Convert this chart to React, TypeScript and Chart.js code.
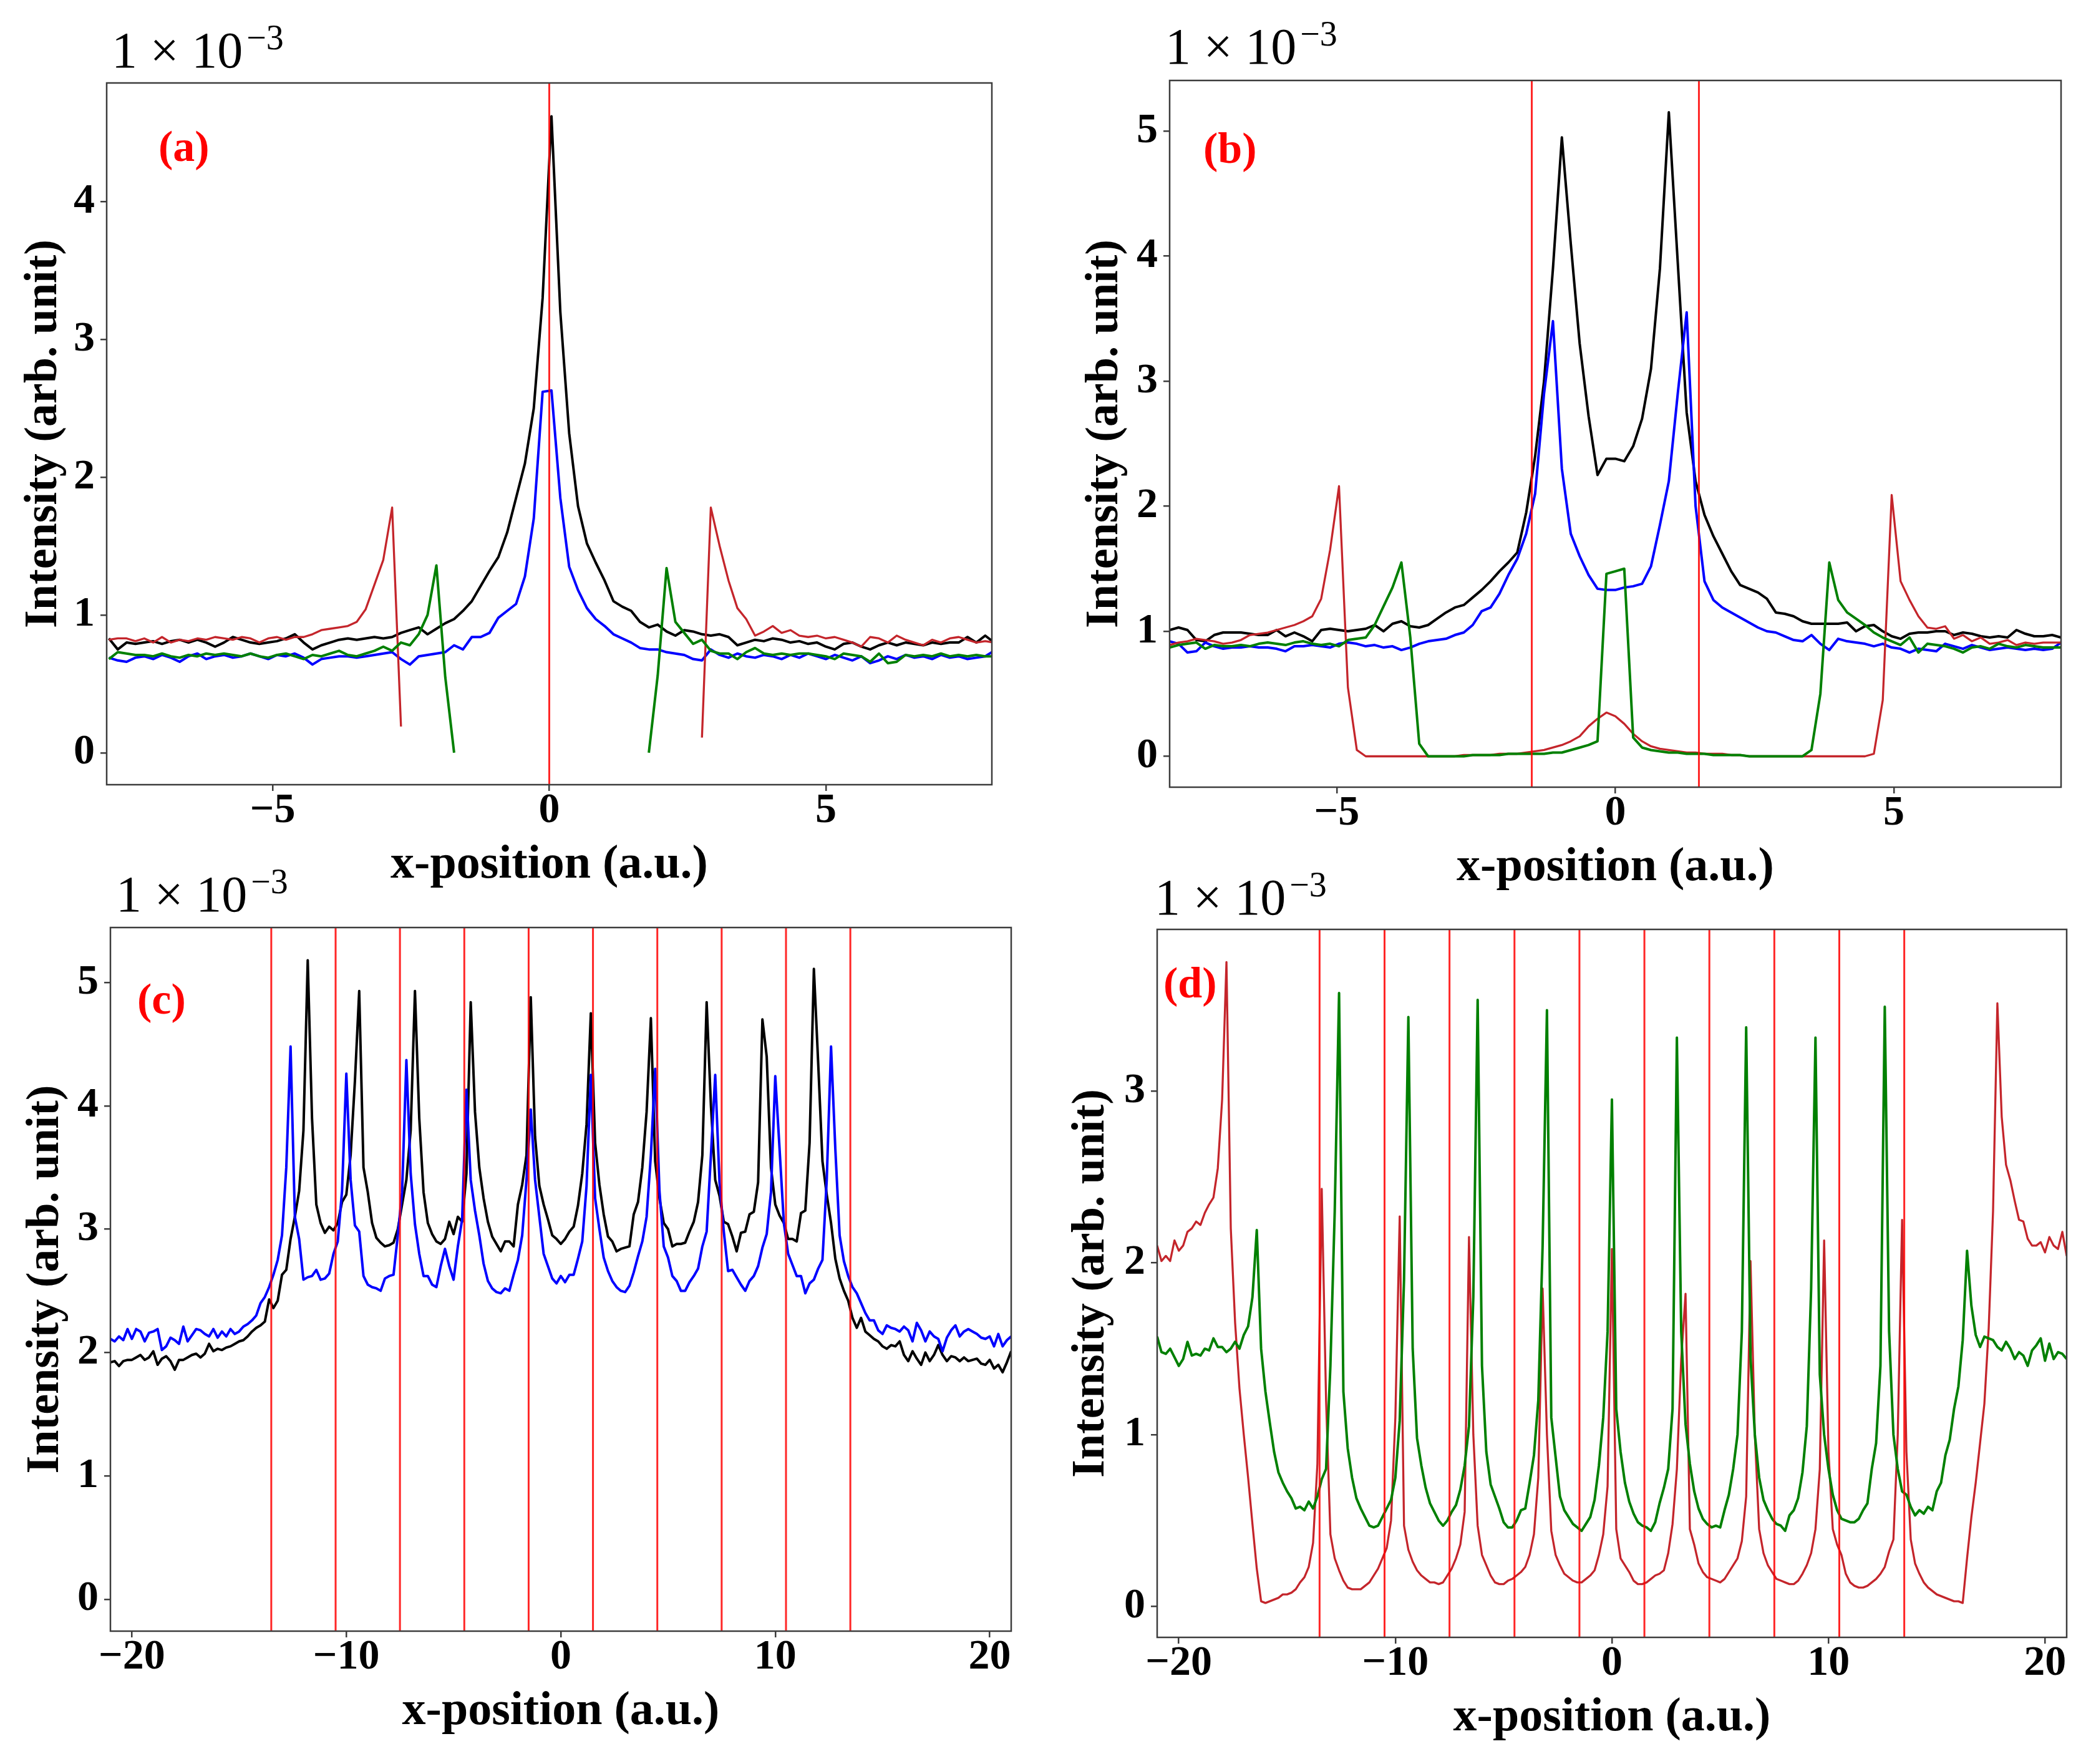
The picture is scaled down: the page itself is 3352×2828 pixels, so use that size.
import React, { useEffect, useRef } from 'react';
import { Chart, registerables } from 'chart.js';

Chart.register(...registerables);

const N = null;

// ---------------- x sampling grids ----------------
const A_X0 = -7.96, A_DX = 0.16, A_N = 101;
const B_X0 = -8.0, B_DX = 0.16, B_N = 101;
const CD_X0 = -21.0, CD_DX = 0.2, CD_N = 211;

// ---------------- panel (a) ----------------
const aBlack = [
  0.83,0.75,0.80,0.79,0.80,0.81,0.79,0.81,0.82,0.80,
  0.82,0.80,0.77,0.80,0.84,0.82,0.80,0.79,0.80,0.81,
  0.83,0.86,0.80,0.75,0.78,0.80,0.82,0.83,0.82,0.83,
  0.84,0.83,0.84,0.87,0.89,0.91,0.86,0.90,0.94,0.97,
  1.03,1.10,1.21,1.32,1.42,1.60,1.85,2.10,2.50,3.30,
  4.62,3.20,2.32,1.79,1.52,1.38,1.25,1.10,1.06,1.03,
  0.95,0.91,0.93,0.88,0.85,0.89,0.88,0.86,0.85,0.86,
  0.84,0.78,0.80,0.82,0.81,0.83,0.82,0.80,0.81,0.79,
  0.80,0.77,0.75,0.79,0.80,0.77,0.75,0.78,0.80,0.78,
  0.80,0.79,0.78,0.80,0.79,0.80,0.80,0.84,0.80,0.85,
  0.80,
];
const aBlue = [
  0.69,0.67,0.66,0.69,0.70,0.68,0.71,0.69,0.66,0.70,
  0.72,0.68,0.70,0.71,0.69,0.70,0.72,0.70,0.68,0.71,
  0.70,0.72,0.69,0.64,0.68,0.69,0.70,0.70,0.69,0.70,
  0.71,0.72,0.73,0.68,0.64,0.70,0.71,0.72,0.73,0.78,
  0.75,0.84,0.84,0.87,0.98,1.03,1.08,1.28,1.70,2.62,
  2.63,1.85,1.35,1.18,1.05,0.97,0.92,0.86,0.83,0.80,
  0.76,0.75,0.75,0.73,0.72,0.71,0.68,0.67,0.75,0.71,
  0.69,0.72,0.70,0.69,0.71,0.70,0.68,0.71,0.69,0.72,
  0.70,0.68,0.71,0.69,0.67,0.70,0.65,0.67,0.70,0.68,
  0.71,0.69,0.70,0.68,0.71,0.69,0.70,0.68,0.69,0.70,
  0.74,
];
const aGreen = [
  0.68,0.73,0.72,0.71,0.71,0.70,0.72,0.70,0.69,0.71,
  0.70,0.72,0.71,0.72,0.71,0.70,0.72,0.70,0.69,0.71,
  0.72,0.70,0.68,0.71,0.70,0.72,0.74,0.71,0.70,0.72,
  0.74,0.77,0.74,0.80,0.78,0.86,1.00,1.36,0.55,0.00,
  N,N,N,N,N,N,N,N,N,N,
  N,N,N,N,N,N,N,N,N,N,
  N,0.00,0.56,1.34,0.95,0.87,0.79,0.82,0.74,0.72,
  0.72,0.68,0.73,0.76,0.72,0.71,0.72,0.71,0.72,0.72,
  0.71,0.70,0.68,0.72,0.71,0.70,0.66,0.72,0.65,0.66,
  0.71,0.70,0.71,0.70,0.72,0.70,0.71,0.70,0.71,0.70,
  0.70,
];
const aRed = [
  0.82,0.83,0.83,0.81,0.83,0.80,0.84,0.80,0.82,0.81,
  0.83,0.82,0.84,0.83,0.82,0.84,0.83,0.80,0.83,0.84,
  0.82,0.84,0.84,0.86,0.89,0.90,0.91,0.92,0.95,1.04,
  1.22,1.40,1.78,0.19,N,N,N,N,N,N,
  N,N,N,N,N,N,N,N,N,N,
  N,N,N,N,N,N,N,N,N,N,
  N,N,N,N,N,N,N,0.11,1.78,1.50,
  1.25,1.05,0.97,0.85,0.88,0.92,0.87,0.89,0.85,0.84,
  0.85,0.83,0.84,0.82,0.80,0.77,0.84,0.83,0.80,0.85,
  0.82,0.80,0.78,0.82,0.80,0.83,0.84,0.82,0.80,0.81,
  0.80,
];

// ---------------- panel (b) ----------------
const bBlack = [
  1.01,1.03,1.01,0.93,0.92,0.97,0.99,0.99,0.99,0.98,
  0.97,0.97,1.01,0.96,0.99,0.96,0.92,1.01,1.02,1.01,
  1.00,1.01,1.02,1.05,1.00,1.06,1.08,1.04,1.03,1.05,
  1.10,1.15,1.19,1.21,1.27,1.33,1.40,1.48,1.55,1.63,
  1.95,2.40,3.00,3.90,4.95,4.10,3.30,2.72,2.25,2.38,
  2.38,2.36,2.48,2.70,3.10,3.90,5.15,3.95,2.75,2.20,
  1.93,1.76,1.62,1.48,1.37,1.34,1.31,1.26,1.15,1.14,
  1.12,1.08,1.06,1.06,1.06,1.06,1.07,1.00,1.04,1.05,
  1.00,0.96,0.94,0.98,0.99,0.99,1.00,1.00,0.97,0.99,
  0.98,0.96,0.95,0.96,0.95,1.01,0.98,0.96,0.96,0.97,
  0.95,
];
const bBlue = [
  0.92,0.90,0.83,0.84,0.91,0.88,0.86,0.87,0.87,0.88,
  0.87,0.87,0.86,0.84,0.88,0.88,0.89,0.88,0.87,0.90,
  0.91,0.90,0.88,0.89,0.87,0.88,0.85,0.87,0.90,0.92,
  0.93,0.94,0.97,0.99,1.05,1.16,1.19,1.30,1.45,1.58,
  1.78,2.10,2.90,3.48,2.30,1.78,1.60,1.45,1.34,1.33,
  1.33,1.35,1.36,1.38,1.52,1.85,2.20,2.90,3.55,2.00,
  1.40,1.25,1.19,1.15,1.11,1.07,1.03,1.00,0.99,0.96,
  0.93,0.92,0.97,0.90,0.85,0.94,0.92,0.91,0.90,0.88,
  0.90,0.87,0.86,0.83,0.86,0.85,0.84,0.90,0.88,0.86,
  0.89,0.87,0.85,0.86,0.87,0.86,0.85,0.86,0.85,0.86,
  0.91,
];
const bGreen = [
  0.87,0.89,0.90,0.91,0.86,0.89,0.88,0.88,0.89,0.88,
  0.90,0.91,0.90,0.89,0.91,0.92,0.90,0.89,0.90,0.88,
  0.93,0.94,0.95,1.05,1.20,1.35,1.55,0.95,0.10,0.00,
  0.00,0.00,0.00,0.00,0.01,0.01,0.01,0.01,0.02,0.02,
  0.02,0.02,0.02,0.03,0.03,0.05,0.07,0.09,0.12,1.46,
  1.48,1.50,0.15,0.07,0.05,0.04,0.03,0.03,0.02,0.02,
  0.02,0.01,0.01,0.01,0.01,0.00,0.00,0.00,0.00,0.00,
  0.00,0.00,0.05,0.50,1.55,1.25,1.15,1.10,1.05,0.99,
  0.95,0.92,0.89,0.95,0.83,0.90,0.89,0.88,0.86,0.83,
  0.87,0.88,0.86,0.90,0.88,0.87,0.89,0.88,0.87,0.87,
  0.87,
];
const bRed = [
  0.89,0.91,0.92,0.94,0.93,0.92,0.90,0.91,0.93,0.97,
  0.98,0.99,1.01,1.03,1.05,1.08,1.12,1.26,1.65,2.16,
  0.55,0.05,0.00,0.00,0.00,0.00,0.00,0.00,0.00,0.00,
  0.00,0.00,0.00,0.01,0.01,0.01,0.01,0.02,0.02,0.02,
  0.03,0.04,0.05,0.07,0.09,0.12,0.16,0.24,0.30,0.35,
  0.32,0.26,0.18,0.12,0.08,0.06,0.05,0.04,0.03,0.03,
  0.02,0.02,0.02,0.01,0.01,0.00,0.00,0.00,0.00,0.00,
  0.00,0.00,0.00,0.00,0.00,0.00,0.00,0.00,0.00,0.02,
  0.45,2.09,1.40,1.25,1.12,1.03,1.02,1.04,0.94,0.97,
  0.92,0.95,0.90,0.91,0.93,0.89,0.91,0.90,0.91,0.91,
  0.91,
];

// ---------------- panel (c) ----------------
const cBlack = [
  1.92,1.93,1.89,1.93,1.94,1.94,1.96,1.98,1.94,1.96,
  2.01,1.90,1.95,1.97,1.93,1.86,1.94,1.94,1.96,1.98,
  1.99,1.96,1.99,2.07,2.01,2.03,2.02,2.04,2.05,2.07,
  2.09,2.10,2.13,2.17,2.20,2.22,2.25,2.43,2.36,2.42,
  2.63,2.67,2.92,3.10,3.31,3.80,5.18,3.90,3.20,3.05,
  2.97,3.02,2.99,3.05,3.22,3.28,3.60,4.20,4.93,3.50,
  3.30,3.05,2.93,2.89,2.86,2.87,2.89,3.00,3.20,3.40,
  3.80,4.93,3.90,3.30,3.05,2.96,2.90,2.88,2.92,3.06,
  2.96,3.10,3.06,3.45,4.84,3.95,3.50,3.25,3.06,2.94,
  2.88,2.82,2.90,2.90,2.86,3.20,3.36,3.60,4.88,3.75,
  3.35,3.20,3.08,2.95,2.92,2.88,2.92,2.98,3.02,3.19,
  3.45,3.85,4.75,3.70,3.36,3.12,2.94,2.90,2.82,2.84,
  2.85,2.86,3.12,3.22,3.50,3.95,4.71,3.55,3.25,3.05,
  3.00,2.86,2.88,2.88,2.89,2.98,3.06,3.22,3.60,4.84,
  4.00,3.40,3.27,3.06,3.04,2.94,2.82,2.97,2.98,3.12,
  3.14,3.38,4.70,4.40,3.50,3.20,3.11,3.05,2.92,2.92,
  2.90,3.13,3.15,3.70,5.11,4.35,3.55,3.28,3.05,2.76,
  2.60,2.50,2.42,2.28,2.20,2.28,2.17,2.14,2.11,2.09,
  2.05,2.03,2.06,2.05,2.09,1.98,1.93,2.01,1.95,1.90,
  2.00,1.93,1.98,2.06,1.98,1.93,1.97,1.96,1.93,1.96,
  1.93,1.94,1.95,1.91,1.90,1.94,1.87,1.90,1.84,1.92,
  2.01,
];
const cBlue = [
  2.11,2.09,2.13,2.10,2.19,2.11,2.19,2.17,2.09,2.16,
  2.17,2.19,2.02,2.05,2.12,2.10,2.07,2.21,2.09,2.14,
  2.19,2.18,2.15,2.13,2.19,2.12,2.17,2.13,2.19,2.15,
  2.17,2.21,2.23,2.26,2.30,2.40,2.45,2.53,2.63,2.75,
  2.95,3.50,4.48,3.10,2.92,2.59,2.61,2.62,2.67,2.59,
  2.60,2.64,2.80,2.90,3.31,4.26,3.40,3.03,2.98,2.62,
  2.55,2.53,2.52,2.50,2.60,2.62,2.63,2.95,3.30,4.37,
  3.45,3.04,2.80,2.62,2.62,2.55,2.53,2.70,2.84,2.70,
  2.59,2.86,3.08,4.13,3.40,3.15,2.95,2.72,2.58,2.52,
  2.49,2.48,2.52,2.50,2.63,2.75,2.95,3.40,3.97,3.40,
  3.10,2.80,2.70,2.60,2.56,2.62,2.57,2.63,2.63,2.76,
  2.90,3.35,4.25,3.25,3.00,2.77,2.66,2.58,2.53,2.50,
  2.49,2.54,2.65,2.78,2.90,3.10,3.60,4.30,3.31,2.86,
  2.77,2.62,2.58,2.50,2.50,2.57,2.62,2.68,2.86,2.98,
  3.60,4.25,3.38,2.98,2.66,2.67,2.61,2.55,2.50,2.58,
  2.62,2.70,2.85,2.96,3.30,4.24,3.65,3.05,2.80,2.71,
  2.62,2.62,2.48,2.56,2.59,2.68,2.75,3.40,4.48,3.65,
  2.95,2.74,2.62,2.53,2.48,2.40,2.32,2.26,2.26,2.18,
  2.15,2.22,2.20,2.19,2.17,2.21,2.18,2.09,2.24,2.18,
  2.09,2.17,2.13,2.11,2.01,2.12,2.18,2.22,2.13,2.17,
  2.19,2.17,2.15,2.12,2.11,2.13,2.05,2.15,2.05,2.10,
  2.13,
];

// ---------------- panel (d) ----------------
const dRed = [
  2.10,2.01,2.04,2.01,2.13,2.07,2.10,2.18,2.20,2.24,
  2.22,2.29,2.34,2.38,2.55,2.95,3.75,2.20,1.65,1.27,
  1.00,0.75,0.48,0.22,0.03,0.02,0.03,0.04,0.05,0.07,
  0.07,0.08,0.10,0.14,0.17,0.23,0.37,0.83,2.43,1.20,
  0.42,0.28,0.21,0.15,0.11,0.10,0.10,0.10,0.12,0.14,
  0.18,0.22,0.28,0.34,0.50,1.10,2.27,0.47,0.33,0.26,
  0.21,0.18,0.16,0.14,0.14,0.13,0.14,0.18,0.22,0.28,
  0.36,0.55,2.15,1.00,0.47,0.30,0.24,0.18,0.14,0.13,
  0.13,0.15,0.16,0.18,0.20,0.23,0.30,0.42,0.75,1.85,
  1.00,0.44,0.30,0.24,0.19,0.17,0.15,0.14,0.14,0.16,
  0.18,0.21,0.30,0.42,0.70,2.08,0.45,0.28,0.24,0.20,
  0.15,0.13,0.13,0.14,0.16,0.18,0.19,0.21,0.31,0.48,
  0.80,1.44,1.82,0.45,0.36,0.25,0.20,0.17,0.16,0.15,
  0.14,0.16,0.20,0.24,0.28,0.38,0.64,2.01,1.00,0.45,
  0.31,0.24,0.20,0.16,0.15,0.14,0.13,0.13,0.15,0.19,
  0.24,0.31,0.45,0.80,2.13,0.90,0.45,0.36,0.30,0.19,
  0.14,0.12,0.11,0.11,0.12,0.14,0.16,0.19,0.23,0.32,
  0.39,1.00,2.25,0.90,0.39,0.25,0.19,0.14,0.11,0.09,
  0.07,0.06,0.05,0.04,0.03,0.03,0.02,0.28,0.52,0.72,
  0.95,1.18,1.62,2.30,3.51,2.85,2.57,2.48,2.36,2.25,
  2.24,2.14,2.10,2.10,2.12,2.06,2.15,2.10,2.08,2.18,
  2.04,
];
const dGreen = [
  1.57,1.48,1.47,1.50,1.45,1.40,1.44,1.54,1.46,1.47,
  1.46,1.50,1.49,1.56,1.51,1.51,1.48,1.50,1.54,1.50,
  1.58,1.63,1.80,2.19,1.50,1.25,1.07,0.90,0.78,0.72,
  0.67,0.63,0.57,0.58,0.56,0.61,0.57,0.64,0.74,0.80,
  1.40,2.30,3.57,1.25,0.92,0.75,0.63,0.57,0.52,0.47,
  0.46,0.47,0.52,0.57,0.62,0.75,1.08,1.90,3.43,1.50,
  0.98,0.82,0.69,0.60,0.55,0.50,0.47,0.50,0.55,0.59,
  0.68,0.82,1.05,1.80,3.53,1.40,0.90,0.71,0.64,0.57,
  0.49,0.46,0.46,0.50,0.56,0.57,0.72,0.88,1.20,2.10,
  3.47,1.10,0.87,0.64,0.56,0.52,0.48,0.46,0.44,0.48,
  0.52,0.62,0.82,1.10,1.60,2.95,1.15,0.90,0.72,0.61,
  0.54,0.49,0.47,0.46,0.44,0.49,0.60,0.69,0.80,1.15,
  3.31,1.60,1.06,0.83,0.67,0.57,0.51,0.48,0.46,0.47,
  0.46,0.56,0.65,0.80,1.00,1.60,3.37,1.45,1.00,0.75,
  0.62,0.56,0.51,0.48,0.47,0.44,0.53,0.56,0.63,0.78,
  1.05,1.85,3.31,1.35,1.00,0.80,0.65,0.56,0.51,0.50,
  0.49,0.49,0.51,0.56,0.60,0.80,0.95,1.40,3.49,1.60,
  1.00,0.80,0.67,0.65,0.58,0.53,0.56,0.54,0.58,0.56,
  0.67,0.72,0.88,0.97,1.15,1.28,1.55,2.07,1.75,1.58,
  1.51,1.57,1.56,1.55,1.51,1.49,1.54,1.50,1.44,1.48,
  1.46,1.40,1.49,1.52,1.56,1.43,1.53,1.44,1.48,1.47,
  1.44,
];

// ---------------- reference lines & ticks ----------------
const aVLines = [0];
const bVLines = [-1.5, 1.5];
const cdVLines = [-13.5, -10.5, -7.5, -4.5, -1.5, 1.5, 4.5, 7.5, 10.5, 13.5];

const abXTicks = [-5, 0, 5];
const cdXTicks = [-20, -10, 0, 10, 20];
const aYTicks = [0, 1, 2, 3, 4];
const bcYTicks = [0, 1, 2, 3, 4, 5];
const dYTicks = [0, 1, 2, 3];

const X_TITLE = 'x-position (a.u.)';
const Y_TITLE = 'Intensity (arb. unit)';
const EXPO_BASE = '1 \u00d7 10';
const EXPO_SUP = '\u22123';

function makeGrid(x0: number, dx: number, n: number): number[] {
  const out: number[] = [];
  for (let i = 0; i < n; i++) out.push(Math.round((x0 + dx * i) * 1000) / 1000);
  return out;
}
const A_X = makeGrid(A_X0, A_DX, A_N);
const B_X = makeGrid(B_X0, B_DX, B_N);
const CD_X = makeGrid(CD_X0, CD_DX, CD_N);

// ---------------- styles ----------------
const FONT = '"Liberation Serif", "Times New Roman", serif';
const C_BLACK = '#000000';
const C_BLUE = '#0000ff';
const C_GREEN = '#008000';
const C_RED = '#c4252b';
const C_VLINE = 'rgba(255,0,0,0.85)';
const C_FRAME = '#3c3c3c';
const LW = 4;
const LW_RED = 3.3;

type Series = { x: number[]; y: (number | null)[]; color: string; width: number; order: number };

// Upper canvases: y 0..1450 ; lower canvases: y 1380..2828 (overlap is transparent)
const PANELS = [
  {
    key: 'a', label: '(a)', left: 0, top: 0, w: 1676, h: 1450,
    plot: { l: 171, t: 133, r: 1590, b: 1258 },
    xMin: -8, xMax: 8, yMin: -0.232, yMax: 4.862,
    xTicks: abXTicks, yTicks: aYTicks, vlines: aVLines,
    xTitleCenter: 1387, yTitleCenter: 71,
    expo: { x: 179, y: 108 }, tag: { x: 254, y: 240 },
    series: [
      { x: A_X, y: aBlack, color: C_BLACK, width: LW, order: 4 },
      { x: A_X, y: aBlue, color: C_BLUE, width: LW, order: 3 },
      { x: A_X, y: aRed, color: C_RED, width: LW_RED, order: 2 },
      { x: A_X, y: aGreen, color: C_GREEN, width: LW, order: 1 },
    ] as Series[],
  },
  {
    key: 'b', label: '(b)', left: 1676, top: 0, w: 1676, h: 1450,
    plot: { l: 199, t: 129, r: 1628, b: 1262 },
    xMin: -8, xMax: 8, yMin: -0.247, yMax: 5.405,
    xTicks: abXTicks, yTicks: bcYTicks, vlines: bVLines,
    xTitleCenter: 1391, yTitleCenter: 96,
    expo: { x: 192, y: 102 }, tag: { x: 253, y: 243 },
    series: [
      { x: B_X, y: bBlack, color: C_BLACK, width: LW, order: 4 },
      { x: B_X, y: bBlue, color: C_BLUE, width: LW, order: 3 },
      { x: B_X, y: bRed, color: C_RED, width: LW_RED, order: 2 },
      { x: B_X, y: bGreen, color: C_GREEN, width: LW, order: 1 },
    ] as Series[],
  },
  {
    key: 'c', label: '(c)', left: 0, top: 1380, w: 1676, h: 1448,
    plot: { l: 177, t: 107, r: 1621, b: 1235 },
    xMin: -21, xMax: 21, yMin: -0.259, yMax: 5.445,
    xTicks: cdXTicks, yTicks: bcYTicks, vlines: cdVLines,
    xTitleCenter: 1364, yTitleCenter: 74,
    expo: { x: 186, y: 81 }, tag: { x: 220, y: 227 },
    series: [
      { x: CD_X, y: cBlack, color: C_BLACK, width: LW, order: 2 },
      { x: CD_X, y: cBlue, color: C_BLUE, width: LW, order: 1 },
    ] as Series[],
  },
  {
    key: 'd', label: '(d)', left: 1676, top: 1380, w: 1676, h: 1448,
    plot: { l: 179, t: 110, r: 1637, b: 1245 },
    xMin: -21, xMax: 21, yMin: -0.18, yMax: 3.94,
    xTicks: cdXTicks, yTicks: dYTicks, vlines: cdVLines,
    xTitleCenter: 1374, yTitleCenter: 74,
    expo: { x: 175, y: 86 }, tag: { x: 189, y: 201 },
    series: [
      { x: CD_X, y: dRed, color: C_RED, width: LW_RED, order: 2 },
      { x: CD_X, y: dGreen, color: C_GREEN, width: LW, order: 1 },
    ] as Series[],
  },
];

const fmtTick = (v: number | string) => {
  const n = Number(v);
  return n < 0 ? '\u2212' + Math.abs(n) : String(n);
};

const decorPlugin = {
  id: 'decor',
  afterDatasetsDraw(chart: any) {
    const { ctx, chartArea: a } = chart;
    ctx.save();
    ctx.strokeStyle = C_FRAME;
    ctx.lineWidth = 2.5;
    ctx.strokeRect(a.left, a.top, a.right - a.left, a.bottom - a.top);
    ctx.restore();
  },
  afterDraw(chart: any, _args: any, opts: any) {
    const { ctx } = chart;
    ctx.save();
    ctx.fillStyle = '#000';
    ctx.textAlign = 'left';
    ctx.textBaseline = 'alphabetic';
    ctx.font = `82px ${FONT}`;
    ctx.fillText(EXPO_BASE, opts.expoX, opts.expoY);
    const w = ctx.measureText(EXPO_BASE).width;
    ctx.font = `56px ${FONT}`;
    ctx.fillText(EXPO_SUP, opts.expoX + w + 6, opts.expoY - 29);
    ctx.fillStyle = '#ff0000';
    ctx.font = `bold 70px ${FONT}`;
    ctx.textBaseline = 'middle';
    ctx.fillText(opts.label, opts.tagX, opts.tagY);
    ctx.restore();
  },
};

function buildConfig(p: any): any {
  const datasets: any[] = [];
  datasets.push({
    data: p.vlines.flatMap((v: number) => [
      { x: v, y: p.yMin }, { x: v, y: p.yMax }, { x: v, y: null },
    ]),
    borderColor: C_VLINE, borderWidth: 3, pointRadius: 0, pointHoverRadius: 0,
    spanGaps: false, tension: 0, fill: false, order: 0,
  });
  p.series.forEach((s: Series) => {
    datasets.push({
      data: s.x.map((xv, j) => ({ x: xv, y: s.y[j] })),
      borderColor: s.color, borderWidth: s.width, pointRadius: 0, pointHoverRadius: 0,
      spanGaps: false, tension: 0, fill: false, order: s.order,
      borderJoinStyle: 'round', borderCapStyle: 'butt',
    });
  });

  const tickFont = { family: FONT, size: 68, weight: 'bold', lineHeight: 0.8 };
  const xTitleFont = { family: FONT, size: 76, weight: 'bold', lineHeight: 0.5 };
  const yTitleFont = { family: FONT, size: 74, weight: 'bold', lineHeight: 0.5 };
  const gridOpts = {
    display: true, drawOnChartArea: false, drawTicks: true, tickLength: 10,
    tickWidth: 2.5, tickColor: C_FRAME, color: C_FRAME, lineWidth: 2.5,
  };

  return {
    type: 'line',
    data: { datasets },
    options: {
      animation: false,
      responsive: false,
      maintainAspectRatio: false,
      devicePixelRatio: 1,
      events: [],
      layout: {
        autoPadding: false,
        padding: { left: 0, top: p.plot.t, right: p.w - p.plot.r, bottom: 0 },
      },
      plugins: {
        legend: { display: false },
        tooltip: { enabled: false },
        decor: {
          expoX: p.expo.x, expoY: p.expo.y,
          tagX: p.tag.x, tagY: p.tag.y, label: p.label,
        },
      },
      scales: {
        x: {
          type: 'linear', min: p.xMin, max: p.xMax,
          afterBuildTicks: (s: any) => { s.ticks = p.xTicks.map((v: number) => ({ value: v })); },
          afterFit: (s: any) => { s.height = p.h - p.plot.b; },
          ticks: { font: tickFont, color: '#000', padding: 5, maxRotation: 0, minRotation: 0, autoSkip: false, callback: fmtTick },
          grid: gridOpts,
          border: { display: false },
          title: {
            display: true, text: X_TITLE, color: '#000', font: xTitleFont,
            padding: { top: 0, bottom: p.h - p.xTitleCenter - 19 },
          },
        },
        y: {
          type: 'linear', min: p.yMin, max: p.yMax,
          afterBuildTicks: (s: any) => { s.ticks = p.yTicks.map((v: number) => ({ value: v })); },
          afterFit: (s: any) => { s.width = p.plot.l; },
          ticks: { font: tickFont, color: '#000', padding: 9, autoSkip: false, callback: fmtTick },
          grid: gridOpts,
          border: { display: false },
          title: {
            display: true, text: Y_TITLE, color: '#000', font: yTitleFont,
            padding: { top: p.yTitleCenter - 18.5, bottom: 0 },
          },
        },
      },
    },
    plugins: [decorPlugin],
  };
}

function Panel({ spec }: { spec: any }) {
  const ref = useRef<HTMLCanvasElement | null>(null);
  useEffect(() => {
    const canvas = ref.current;
    if (!canvas) return;
    const chart = new Chart(canvas, buildConfig(spec));
    return () => { chart.destroy(); };
  }, [spec]);
  return (
    <canvas
      ref={ref}
      width={spec.w}
      height={spec.h}
      style={{ position: 'absolute', left: spec.left, top: spec.top, width: spec.w, height: spec.h }}
    />
  );
}

export default function App() {
  return (
    <div style={{ position: 'absolute', left: 0, top: 0, width: 3352, height: 2828, background: '#ffffff', overflow: 'hidden' }}>
      {PANELS.map((p) => <Panel key={p.key} spec={p} />)}
    </div>
  );
}
